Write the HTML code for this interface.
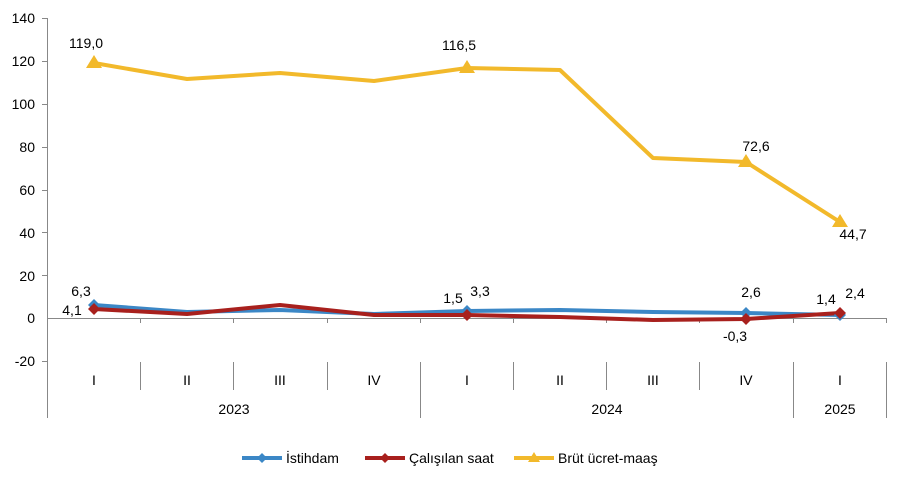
<!DOCTYPE html><html><head><style>body{margin:0;background:#fff}svg{font-family:"Liberation Sans",Arial,sans-serif}</style></head><body>
<svg width="904" height="477" viewBox="0 0 904 477" xmlns="http://www.w3.org/2000/svg">
<g font-size="14" fill="#000" text-anchor="end">
<text x="35" y="23">140</text><text x="35" y="66">120</text><text x="35" y="109">100</text><text x="35" y="152">80</text><text x="35" y="195">60</text><text x="35" y="238">40</text><text x="35" y="281">20</text><text x="35" y="323">0</text><text x="35" y="366">-20</text>
</g>
<g stroke="#888" stroke-width="1" fill="none">
<line x1="47.5" y1="18" x2="47.5" y2="418"/>
<line x1="42" y1="18.5" x2="47" y2="18.5"/><line x1="42" y1="61.5" x2="47" y2="61.5"/><line x1="42" y1="104.5" x2="47" y2="104.5"/><line x1="42" y1="147.5" x2="47" y2="147.5"/><line x1="42" y1="190.5" x2="47" y2="190.5"/><line x1="42" y1="232.5" x2="47" y2="232.5"/><line x1="42" y1="275.5" x2="47" y2="275.5"/><line x1="42" y1="361.5" x2="47" y2="361.5"/>
<line x1="47" y1="318.5" x2="887" y2="318.5"/>
<path d="M140.5 318v5M233.5 318v5M327.5 318v5M420.5 318v5M513.5 318v5M606.5 318v5M699.5 318v5M793.5 318v5M886.5 318v5"/>
<path d="M140.5 362v28M233.5 362v28M327.5 362v28M513.5 362v28M606.5 362v28M699.5 362v28M886.5 362v28M420.5 362v56M793.5 362v56M886.5 362v56"/>
</g>
<g font-size="14" text-anchor="middle">
<text x="94" y="385">I</text><text x="187" y="385">II</text><text x="280" y="385">III</text><text x="374" y="385">IV</text><text x="467" y="385">I</text><text x="560" y="385">II</text><text x="653" y="385">III</text><text x="746" y="385">IV</text><text x="840" y="385">I</text>
<text x="234" y="414">2023</text><text x="607" y="414">2024</text><text x="840" y="414">2025</text>
</g>
<polyline fill="none" stroke="#f2b92b" stroke-width="4" stroke-linejoin="round" points="94,63 187,79 280,73 374,81 467,68 560,70 653,158 746,162 840,222"/>
<polyline fill="none" stroke="#3b87c6" stroke-width="4" stroke-linejoin="round" points="94,305 187,312 280,310 374,314 467,311 560,310 653,312 746,313 840,315"/>
<polyline fill="none" stroke="#a8201d" stroke-width="4" stroke-linejoin="round" points="94,309 187,314 280,305 374,315 467,315 560,317 653,320 746,319 840,313"/>
<g fill="#f2b92b"><path d="M94 55l8 13h-16z"/><path d="M467 60l8 13h-16z"/><path d="M746 154l8 13h-16z"/><path d="M840 214l8 13h-16z"/></g>
<g fill="#3b87c6"><path d="M94 299l6 6-6 6-6-6z"/><path d="M467 305l6 6-6 6-6-6z"/><path d="M746 307l6 6-6 6-6-6z"/><path d="M840 309l6 6-6 6-6-6z"/></g>
<g fill="#a8201d"><path d="M94 303l6 6-6 6-6-6z"/><path d="M467 309l6 6-6 6-6-6z"/><path d="M746 313l6 6-6 6-6-6z"/><path d="M840 307l6 6-6 6-6-6z"/></g>
<g font-size="14" text-anchor="middle">
<text x="86" y="48">119,0</text><text x="459" y="50">116,5</text><text x="756" y="151">72,6</text><text x="853" y="239">44,7</text>
<text x="81" y="296">6,3</text><text x="72" y="315">4,1</text><text x="453" y="303">1,5</text><text x="480" y="296">3,3</text>
<text x="751" y="297">2,6</text><text x="735" y="341">-0,3</text><text x="826" y="304">1,4</text><text x="855" y="298">2,4</text>
</g>
<g font-size="14">
<line x1="242" y1="458" x2="282" y2="458" stroke="#3b87c6" stroke-width="4"/><path d="M262 453l5 5-5 5-5-5z" fill="#3b87c6"/><text x="286" y="463">İstihdam</text>
<line x1="365" y1="458" x2="405" y2="458" stroke="#a8201d" stroke-width="4"/><path d="M385 453l5 5-5 5-5-5z" fill="#a8201d"/><text x="409" y="463">Çalışılan saat</text>
<line x1="514" y1="458" x2="554" y2="458" stroke="#f2b92b" stroke-width="4"/><path d="M534 452l6 10h-12z" fill="#f2b92b"/><text x="558" y="463">Brüt ücret-maaş</text>
</g>
</svg></body></html>
